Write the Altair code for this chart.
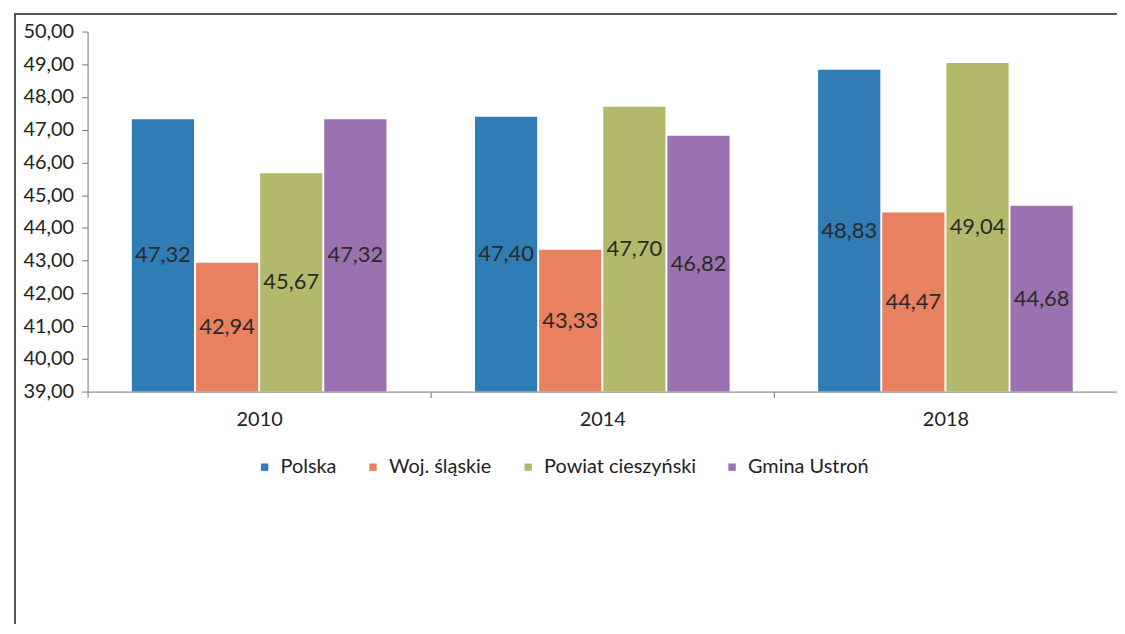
import altair as alt
import pandas as pd

years = ["2010", "2014", "2018"]
series = ["Polska", "Woj. śląskie", "Powiat cieszyński", "Gmina Ustroń"]
polska = [47.32, 47.40, 48.83]
slaskie = [42.94, 43.33, 44.47]
powiat = [45.67, 47.70, 49.04]
ustron = [47.32, 46.82, 44.68]
colors = ["#2f7db4", "#e9805f", "#b4b86b", "#9a72af"]

rows = []
for s, vals in zip(series, [polska, slaskie, powiat, ustron]):
    for y, v in zip(years, vals):
        rows.append({"rok": y, "seria": s, "wartosc": v})
df = pd.DataFrame(rows)

FONT = "Lato"
W, H = 1035, 362

xscale = alt.Scale(paddingInner=0, paddingOuter=0)
xoscale = alt.Scale(paddingInner=0.03, paddingOuter=0.69)
yscale = alt.Scale(domain=[39, 50], nice=False, zero=False)

xaxis = alt.Axis(labelAngle=0, labelFontSize=20, labelColor="#222", labelFont=FONT,
                 tickBand="extent", domainColor="#777", tickColor="#777",
                 tickSize=6, labelPadding=12)
yaxis = alt.Axis(values=list(range(39, 51)), grid=False,
                 labelExpr="replace(format(datum.value, '.2f'), '.', ',')",
                 labelFontSize=20, labelFont=FONT, labelColor="#222",
                 labelOverlap=False, labelFlush=False, labelBound=False,
                 domainColor="#777", tickColor="#777", tickSize=6, labelPadding=8)

color = alt.Color("seria:N", sort=series, scale=alt.Scale(domain=series, range=colors),
                  legend=alt.Legend(title=None, orient="none", direction="horizontal",
                                    legendX=168, legendY=428, symbolType="square",
                                    symbolSize=55, labelFontSize=20, labelFont=FONT,
                                    labelColor="#222", columnPadding=26, labelOffset=6,
                                    symbolStrokeWidth=0))

base = alt.Chart(df).transform_calculate(
    baza="39",
    mid="(39 + datum.wartosc) / 2",
    txt="replace(format(datum.wartosc, '.2f'), '.', ',')",
)

bars = base.mark_bar().encode(
    x=alt.X("rok:N", title=None, scale=xscale, axis=xaxis),
    xOffset=alt.XOffset("seria:N", sort=series, scale=xoscale),
    y=alt.Y("wartosc:Q", title=None, scale=yscale, axis=yaxis),
    y2=alt.Y2("baza:Q"),
    color=color,
)

labels = base.mark_text(fontSize=22, font=FONT, color="#2a2a2a").encode(
    x=alt.X("rok:N", title=None, scale=xscale, axis=xaxis),
    xOffset=alt.XOffset("seria:N", sort=series, scale=xoscale),
    y=alt.Y("mid:Q", title=None, scale=yscale, axis=yaxis),
    text="txt:N",
)

frame_top = alt.Chart(df).mark_rule(color="#555", strokeWidth=1.5).encode(
    x=alt.value(-73), x2=alt.value(W + 10), y=alt.value(-18))
frame_left = alt.Chart(df).mark_rule(color="#555", strokeWidth=1.5).encode(
    x=alt.value(-73), y=alt.value(-18), y2=alt.value(620))

chart = alt.layer(bars, labels, frame_top, frame_left).properties(
    width=W, height=H,
    autosize=alt.AutoSizeParams(type="none"),
    padding={"left": 80, "top": 22, "right": 0, "bottom": 232},
).configure_view(stroke=None)

chart.save("out.html", embed_options={"renderer": "svg", "actions": False})
